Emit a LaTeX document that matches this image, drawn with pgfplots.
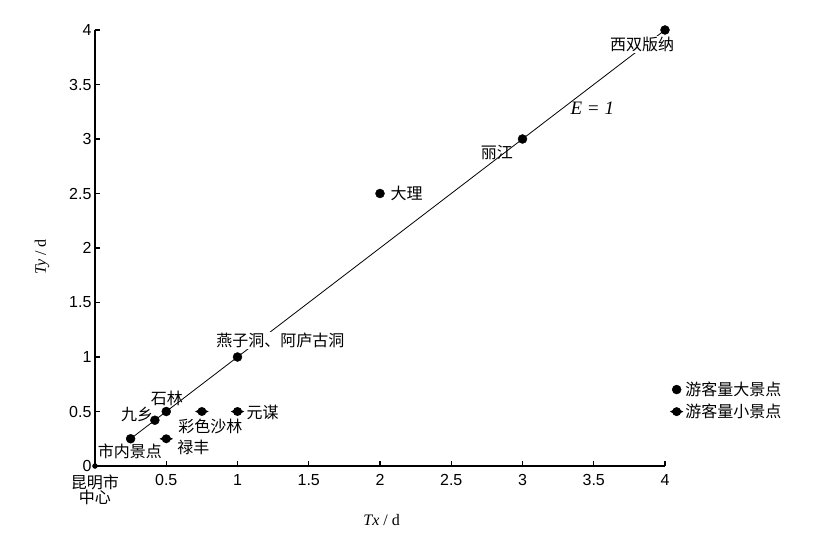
\documentclass[border=0pt]{standalone}
\usepackage{pgfplots}
\pgfplotsset{compat=1.18}
\usepackage{fontspec}
\setmainfont{Liberation Serif}
\setsansfont{Liberation Sans}
\newfontfamily\cjk{Noto Sans CJK SC}
\newcommand\cf{\cjk\fontsize{16}{19}\selectfont}

\pgfdeclareplotmark{spiky}{%
  \pgfpathcircle{\pgfpointorigin}{\pgfplotmarksize}%
  \pgfusepathqfill
  \pgfpathmoveto{\pgfpoint{-1.5\pgfplotmarksize}{0pt}}%
  \pgfpathlineto{\pgfpoint{0pt}{0.75\pgfplotmarksize}}%
  \pgfpathlineto{\pgfpoint{1.5\pgfplotmarksize}{0pt}}%
  \pgfpathlineto{\pgfpoint{0pt}{-0.75\pgfplotmarksize}}%
  \pgfpathclose
  \pgfusepathqfill
}

\begin{document}
\begin{tikzpicture}[font=\fontsize{16}{19}\selectfont]
\useasboundingbox (-95pt,-77pt) rectangle (723pt,466pt);
\begin{axis}[
  at={(0,0)}, anchor=south west,
  scale only axis, width=570pt, height=436pt,
  xmin=0, xmax=4, ymin=0, ymax=4,
  clip=false,
  axis x line*=bottom, axis y line*=left,
  axis line style={line width=1.6pt, -},
  tick align=inside, major tick length=5pt,
  tick style={line width=1.2pt, black},
  xtick={0,0.5,1,1.5,2,2.5,3,3.5,4},
  xticklabels={{\cf 昆明市\\[-3pt]\cf 中心},0.5,1,1.5,2,2.5,3,3.5,4},
  ytick={0,0.5,1,1.5,2,2.5,3,3.5,4},
  yticklabels={0,0.5,1,1.5,2,2.5,3,3.5,4},
  xticklabel style={font=\sffamily\fontsize{16}{18}\selectfont, align=center, yshift=-5pt},
  yticklabel style={font=\sffamily\fontsize{16}{18}\selectfont},
  xlabel={\textit{Tx} / d},
  ylabel={\textit{Ty} / d},
  xlabel style={at={(axis description cs:0.503,-0.124)}, anchor=center},
  ylabel style={at={(axis description cs:-0.093,0.48)}, anchor=center},
  legend style={draw=none, fill=none, at={(axis description cs:1.003,0.15)}, anchor=west,
    font=\cf, row sep=3pt},
  legend cell align=left,
]
\addplot[black, line width=0.8pt, forget plot] coordinates {(0.25,0.25) (4,4)};
\addplot[only marks, mark=*, mark size=2.5pt, black, forget plot] coordinates {(0,0)};
\addplot[only marks, mark=*, mark size=4.5pt, black] coordinates {
  (0.25,0.25) (0.42,0.42) (0.5,0.5) (1,1) (2,2.5) (3,3) (4,4)};
\addlegendentry{游客量大景点}
\addplot[only marks, mark=spiky, mark size=4.5pt, black] coordinates {
  (0.5,0.25) (0.75,0.5) (1,0.5)};
\addlegendentry{游客量小景点}

\node[font=\cf, fill=white, inner sep=1pt] at (axis cs:3.84,3.87) {西双版纳};
\node[font=\fontsize{19}{22}\selectfont] at (axis cs:3.49,3.28) {\textit{E = 1}};
\node[font=\cf] at (axis cs:2.82,2.88) {丽江};
\node[font=\cf, anchor=west] at (axis cs:2.05,2.5) {大理};
\node[font=\cf, fill=white, inner sep=1pt] at (axis cs:1.3,1.15) {燕子洞、阿庐古洞};
\node[font=\cf] at (axis cs:0.505,0.62) {石林};
\node[font=\cf] at (axis cs:0.295,0.47) {九乡};
\node[font=\cf, inner sep=0pt] at (axis cs:0.81,0.365) {彩色沙林};
\node[font=\cf, inner sep=0pt] at (axis cs:0.69,0.17) {禄丰};
\node[font=\cf, anchor=west] at (axis cs:1.04,0.49) {元谋};
\node[font=\cf] at (axis cs:0.245,0.13) {市内景点};
\end{axis}
\end{tikzpicture}
\end{document}
